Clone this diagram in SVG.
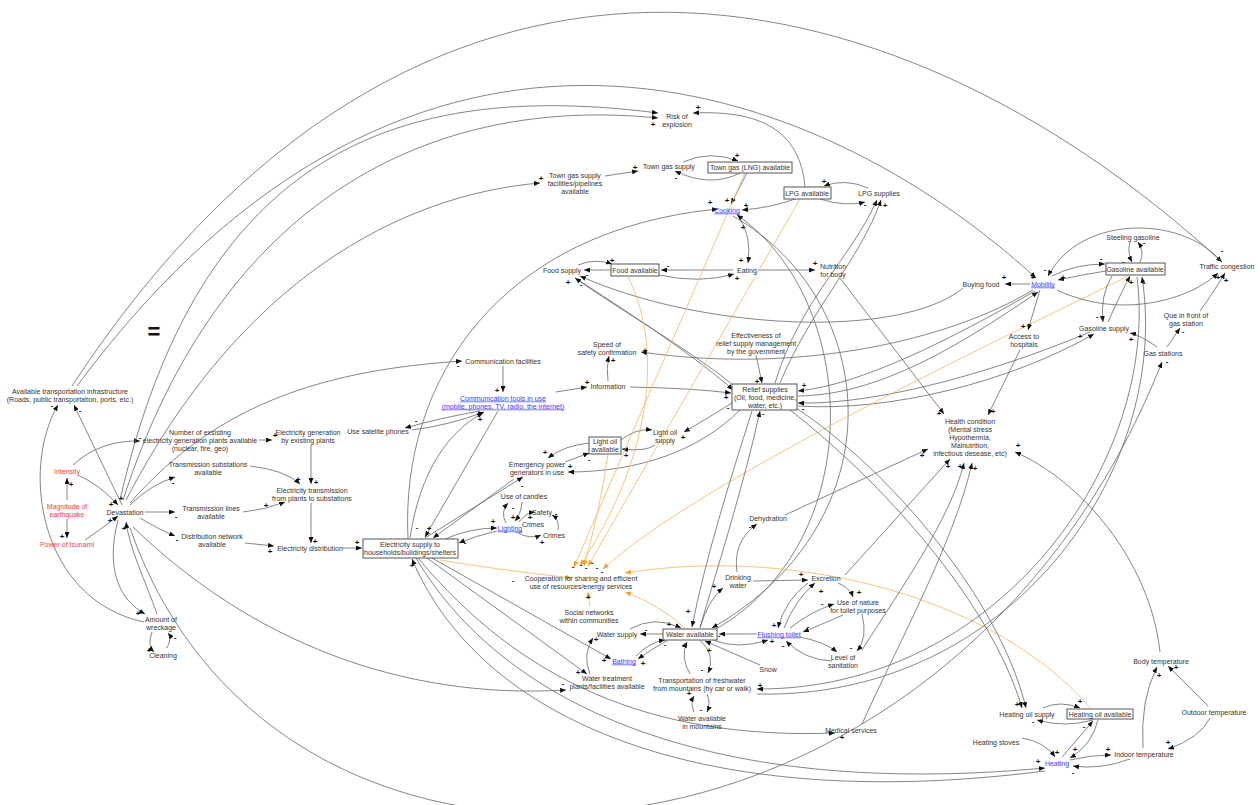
<svg xmlns="http://www.w3.org/2000/svg" width="1260" height="805" viewBox="0 0 1260 805">
<style>
  text { font-family: "Liberation Sans", Arial, sans-serif; font-size: 7px; fill: #333; text-anchor: middle; }
  .red { fill: #ff3a3a; }
  .blue { fill: #3b3bff; }
  .ul { text-decoration: underline; }
  .pol { font-size: 8px; font-weight: bold; fill: #111; }
  .eq { font-size: 22px; font-weight: bold; fill: #111; }
  .box { fill: #fff; stroke: #555; stroke-width: 1; }
  #connectors path { fill: none; stroke: #666; stroke-width: 0.8; marker-end: url(#ah); }
  #connectors path.o { stroke: #f9b55a; marker-end: url(#aho); }
</style>
<defs>
  <marker id="ah" markerUnits="userSpaceOnUse" markerWidth="6" markerHeight="5" refX="6" refY="2.5" orient="auto">
    <path d="M0,0 L6,2.5 L0,5 z" fill="#111"/>
  </marker>
  <marker id="aho" markerUnits="userSpaceOnUse" markerWidth="6" markerHeight="5" refX="6" refY="2.5" orient="auto">
    <path d="M0,0 L6,2.5 L0,5 z" fill="#f5a030"/>
  </marker>
</defs>
<rect width="1260" height="805" fill="#fff"/>

<g id="connectors">
  <!-- left cluster -->
  <path d="M67,500 L67,478"/>
  <path d="M67,519 L67,538"/>
  <path d="M78,475 Q100,485 118,505"/>
  <path d="M85,540 Q100,530 118,516"/>
  <path d="M122,505 L74,405"/>
  <path d="M144,622 C40,600 20,470 58,405"/>
  <path d="M118,520 C105,570 120,600 145,614"/>
  <path d="M157,614 C145,580 130,550 126,522"/>
  <path d="M152,632 Q147,645 154,652"/>
  <path d="M167,648 Q172,638 168,633"/>
  <path d="M73,465 Q100,440 140,441"/>
  <path d="M130,505 Q150,485 175,477"/>
  <path d="M145,512 L175,512"/>
  <path d="M140,518 Q160,530 175,536"/>
  <path d="M259,440 L272,440"/>
  <path d="M311,445 L311,484"/>
  <path d="M250,466 Q285,470 300,484"/>
  <path d="M243,512 Q265,510 285,502"/>
  <path d="M311,503 L311,543"/>
  <path d="M245,543 L274,546"/>
  <path d="M342,548 L362,548"/>

  <!-- long arcs over the top -->
  <path d="M72,386 C415,-137 886,-46 1222,262"/>
  <path d="M77,386 C414,-69 815,76 1036,278"/>
  <path d="M120,500 C200,150 400,80 658,113"/>
  <path d="M123,500 C220,200 430,95 658,118"/>
  <path d="M126,500 C240,280 400,195 540,183"/>
  <path d="M130,503 C220,400 330,370 462,361"/>
  <path d="M408,539 C400,380 500,230 718,209"/>

  <!-- gas / cooking / food -->
  <path d="M805,187 C800,130 760,110 693,113"/>
  <path d="M605,176 L638,171"/>
  <path d="M683,162 Q710,150 738,161"/>
  <path d="M740,173 Q710,188 675,171"/>
  <path d="M747,173 L731,204"/>
  <path d="M795,199 Q770,208 742,210"/>
  <path d="M868,188 Q845,178 824,186"/>
  <path d="M820,199 Q845,207 865,202"/>
  <path d="M738,216 Q752,235 748,263"/>
  <path d="M733,270 L661,270"/>
  <path d="M659,275 Q700,284 734,274"/>
  <path d="M758,270 L815,270"/>
  <path d="M578,265 Q595,258 612,264"/>
  <path d="M611,270 L584,270"/>
  <path d="M840,278 L944,414"/>
  <path d="M733,216 C880,300 900,520 712,628"/>
  <path d="M716,629 C870,540 860,300 737,215"/>
  <path d="M775,383 C800,300 850,260 877,200"/>
  <path d="M780,383 C810,310 860,260 881,200"/>
  <path d="M733,385 C690,350 620,310 575,278"/>
  <path d="M580,281 C640,320 700,360 733,390"/>
  <path d="M963,288 C900,340 700,330 580,276"/>

  <!-- information / relief -->
  <path d="M756,355 L762,383"/>
  <path d="M608,381 Q606,368 609,356"/>
  <path d="M556,392 L587,387"/>
  <path d="M630,387 Q690,388 731,393"/>
  <path d="M1033,290 C950,340 800,375 641,352"/>
  <path d="M1035,291 C950,340 860,385 798,391"/>
  <path d="M798,396 C880,395 960,345 1038,292"/>
  <path d="M1090,332 C1000,370 880,405 798,403"/>
  <path d="M798,406 C890,412 1010,382 1094,334"/>
  <path d="M732,403 Q708,418 684,432"/>
  <path d="M655,445 Q645,452 622,449"/>
  <path d="M621,440 Q636,428 652,430"/>
  <path d="M740,410 C700,450 640,472 568,472"/>
  <path d="M590,443 Q565,445 548,458"/>
  <path d="M565,462 L589,453"/>

  <!-- communication / lighting -->
  <path d="M503,366 L503,392"/>
  <path d="M480,411 Q440,418 405,428"/>
  <path d="M412,430 Q450,425 484,412"/>
  <path d="M410,538 C420,470 450,430 483,413"/>
  <path d="M498,411 L425,537"/>
  <path d="M425,538 L523,477"/>
  <path d="M514,479 L433,538"/>
  <path d="M445,539 Q470,528 497,528"/>
  <path d="M497,531 Q475,536 459,543"/>
  <path d="M506,523 Q500,512 508,503"/>
  <path d="M522,502 Q521,514 515,521"/>
  <path d="M519,522 Q525,513 535,512"/>
  <path d="M558,530 Q560,520 552,515"/>
  <path d="M516,532 Q530,540 541,535"/>

  <!-- cooperation (orange) -->
  <path class="o" d="M440,560 Q500,570 572,578"/>
  <path class="o" d="M745,173 L574,567"/>
  <path class="o" d="M800,199 L588,566"/>
  <path class="o" d="M628,277 C665,350 650,460 580,566"/>
  <path class="o" d="M608,454 Q600,510 584,566"/>
  <path class="o" d="M1128,276 C1000,340 700,480 603,569"/>
  <path class="o" d="M1092,710 C1000,600 800,545 625,573"/>
  <path class="o" d="M685,628 Q660,605 625,592"/>
  <path class="o" d="M590,606 L588,592"/>

  <!-- water -->
  <path d="M752,411 C730,480 705,560 692,627"/>
  <path d="M700,627 C720,560 745,480 760,411"/>
  <path d="M663,634 L640,634"/>
  <path d="M630,629 Q655,615 681,628"/>
  <path d="M668,640 Q650,650 638,659"/>
  <path d="M636,656 Q650,642 665,640"/>
  <path d="M590,674 Q582,655 593,638"/>
  <path d="M432,558 L611,659"/>
  <path d="M427,558 L587,674"/>
  <path d="M133,527 C250,640 400,700 566,690"/>
  <path d="M737,572 C734,550 742,535 757,524"/>
  <path d="M700,628 Q708,600 723,588"/>
  <path d="M753,581 L808,580"/>
  <path d="M785,515 L928,449"/>
  <path d="M713,640 Q738,650 768,640"/>
  <path d="M757,634 L719,634"/>
  <path d="M808,583 Q785,600 778,628"/>
  <path d="M784,628 Q795,600 815,583"/>
  <path d="M790,628 Q810,612 834,604"/>
  <path d="M843,615 Q820,625 803,632"/>
  <path d="M800,637 Q825,642 837,652"/>
  <path d="M832,661 Q805,660 786,641"/>
  <path d="M838,583 Q850,588 853,597"/>
  <path d="M862,614 Q868,638 857,651"/>
  <path d="M845,575 L950,459"/>
  <path d="M862,650 C900,590 950,520 964,463"/>
  <path d="M862,724 C900,640 955,540 972,463"/>
  <path d="M760,665 L705,641"/>
  <path d="M700,640 Q716,655 708,673"/>
  <path d="M690,674 Q680,657 687,642"/>
  <path d="M707,694 Q711,703 707,712"/>
  <path d="M694,712 Q690,703 694,696"/>
  <path d="M1137,277 C1160,460 1000,690 757,689"/>
  <path d="M757,694 C1010,700 1172,470 1142,277"/>
  <path d="M130,528 C280,960 950,900 1162,362"/>
  <path d="M418,558 C520,680 650,740 835,733"/>
  <path d="M416,558 C500,700 700,800 1045,768"/>
  <path d="M1045,771 C700,815 480,720 412,559"/>

  <!-- heating -->
  <path d="M1043,708 Q1060,700 1080,708"/>
  <path d="M1093,720 Q1065,728 1037,720"/>
  <path d="M1098,720 Q1092,745 1070,758"/>
  <path d="M1062,757 L1093,721"/>
  <path d="M1022,738 Q1045,742 1055,757"/>
  <path d="M1070,760 Q1090,755 1111,755"/>
  <path d="M1130,759 Q1100,770 1073,766"/>
  <path d="M1143,748 Q1140,700 1157,667"/>
  <path d="M1208,706 L1168,666"/>
  <path d="M1210,718 Q1200,738 1168,749"/>
  <path d="M1160,652 C1150,560 1080,480 1015,452"/>
  <path d="M790,410 C880,480 990,600 1022,708"/>
  <path d="M796,408 C890,470 1000,600 1026,708"/>

  <!-- gasoline / mobility -->
  <path d="M1106,271 Q1080,275 1058,280"/>
  <path d="M1052,276 Q1075,264 1105,264"/>
  <path d="M1130,242 Q1127,252 1132,262"/>
  <path d="M1140,262 Q1145,252 1138,242"/>
  <path d="M1220,260 C1180,215 1080,215 1048,276"/>
  <path d="M1057,290 C1120,320 1190,300 1218,273"/>
  <path d="M1112,276 Q1100,295 1103,322"/>
  <path d="M1108,322 Q1120,295 1130,276"/>
  <path d="M1157,347 Q1140,335 1130,333"/>
  <path d="M1167,347 L1180,328"/>
  <path d="M1200,311 Q1215,290 1225,273"/>
  <path d="M1030,284 L1005,284"/>
  <path d="M1040,290 L1028,330"/>
  <path d="M1020,350 L988,415"/>

  <!-- polarities -->
  <text class="pol" x="71" y="487">+</text>
  <text class="pol" x="62" y="539">+</text>
  <text class="pol" x="111" y="507">+</text>
  <text class="pol" x="121" y="501">+</text>
  <text class="pol" x="110" y="523">+</text>
  <text class="pol" x="124" y="531">+</text>
  <text class="pol" x="80" y="413">-</text>
  <text class="pol" x="52" y="408">-</text>
  <text class="pol" x="138" y="616">+</text>
  <text class="pol" x="149" y="653">+</text>
  <text class="pol" x="175" y="640">-</text>
  <text class="pol" x="140" y="440">-</text>
  <text class="pol" x="173" y="485">-</text>
  <text class="pol" x="176" y="519">-</text>
  <text class="pol" x="177" y="542">-</text>
  <text class="pol" x="275" y="438">+</text>
  <text class="pol" x="316" y="485">+</text>
  <text class="pol" x="298" y="482">+</text>
  <text class="pol" x="266" y="508">+</text>
  <text class="pol" x="315" y="544">+</text>
  <text class="pol" x="270" y="554">+</text>
  <text class="pol" x="357" y="545">+</text>
  <text class="pol" x="1222" y="253">-</text>
  <text class="pol" x="1033" y="280">+</text>
  <text class="pol" x="1045" y="272">-</text>
  <text class="pol" x="653" y="127">+</text>
  <text class="pol" x="541" y="181">+</text>
  <text class="pol" x="458" y="368">-</text>
  <text class="pol" x="710" y="205">+</text>
  <text class="pol" x="698" y="110">+</text>
  <text class="pol" x="635" y="170">+</text>
  <text class="pol" x="737" y="158">+</text>
  <text class="pol" x="676" y="180">-</text>
  <text class="pol" x="727" y="203">+</text>
  <text class="pol" x="746" y="208">+</text>
  <text class="pol" x="824" y="184">+</text>
  <text class="pol" x="865" y="207">-</text>
  <text class="pol" x="885" y="208">+</text>
  <text class="pol" x="743" y="230">+</text>
  <text class="pol" x="741" y="263">+</text>
  <text class="pol" x="668" y="268">-</text>
  <text class="pol" x="737" y="281">+</text>
  <text class="pol" x="815" y="266">+</text>
  <text class="pol" x="612" y="263">+</text>
  <text class="pol" x="587" y="277">-</text>
  <text class="pol" x="568" y="285">+</text>
  <text class="pol" x="581" y="287">-</text>
  <text class="pol" x="939" y="416">+</text>
  <text class="pol" x="757" y="384">+</text>
  <text class="pol" x="613" y="363">+</text>
  <text class="pol" x="587" y="385">+</text>
  <text class="pol" x="726" y="400">+</text>
  <text class="pol" x="645" y="353">+</text>
  <text class="pol" x="804" y="388">+</text>
  <text class="pol" x="803" y="411">-</text>
  <text class="pol" x="1080" y="339">+</text>
  <text class="pol" x="683" y="440">+</text>
  <text class="pol" x="626" y="458">+</text>
  <text class="pol" x="647" y="432">-</text>
  <text class="pol" x="728" y="410">-</text>
  <text class="pol" x="570" y="469">+</text>
  <text class="pol" x="545" y="455">+</text>
  <text class="pol" x="589" y="462">-</text>
  <text class="pol" x="497" y="393">+</text>
  <text class="pol" x="416" y="423">-</text>
  <text class="pol" x="480" y="422">+</text>
  <text class="pol" x="417" y="530">-</text>
  <text class="pol" x="429" y="531">+</text>
  <text class="pol" x="522" y="488">-</text>
  <text class="pol" x="493" y="524">+</text>
  <text class="pol" x="465" y="545">-</text>
  <text class="pol" x="513" y="510">-</text>
  <text class="pol" x="513" y="520">+</text>
  <text class="pol" x="530" y="520">+</text>
  <text class="pol" x="556" y="516">-</text>
  <text class="pol" x="542" y="545">+</text>
  <text class="pol" x="513" y="583">-</text>
  <text class="pol" x="573" y="569">-</text>
  <text class="pol" x="581" y="567">-</text>
  <text class="pol" x="586" y="570">-</text>
  <text class="pol" x="592" y="565">-</text>
  <text class="pol" x="597" y="570">-</text>
  <text class="pol" x="602" y="574">-</text>
  <text class="pol" x="588" y="600">+</text>
  <text class="pol" x="688" y="614">+</text>
  <text class="pol" x="763" y="416">-</text>
  <text class="pol" x="646" y="632">-</text>
  <text class="pol" x="669" y="627">+</text>
  <text class="pol" x="643" y="666">+</text>
  <text class="pol" x="665" y="647">-</text>
  <text class="pol" x="596" y="642">+</text>
  <text class="pol" x="578" y="675">+</text>
  <text class="pol" x="604" y="663">+</text>
  <text class="pol" x="563" y="686">-</text>
  <text class="pol" x="750" y="529">-</text>
  <text class="pol" x="714" y="589">+</text>
  <text class="pol" x="801" y="577">+</text>
  <text class="pol" x="922" y="458">+</text>
  <text class="pol" x="772" y="644">+</text>
  <text class="pol" x="719" y="638">-</text>
  <text class="pol" x="774" y="628">+</text>
  <text class="pol" x="821" y="594">+</text>
  <text class="pol" x="822" y="606">-</text>
  <text class="pol" x="808" y="629">-</text>
  <text class="pol" x="783" y="648">-</text>
  <text class="pol" x="859" y="595">+</text>
  <text class="pol" x="851" y="650">-</text>
  <text class="pol" x="948" y="469">+</text>
  <text class="pol" x="960" y="469">+</text>
  <text class="pol" x="975" y="471">+</text>
  <text class="pol" x="709" y="653">+</text>
  <text class="pol" x="702" y="672">-</text>
  <text class="pol" x="684" y="648">+</text>
  <text class="pol" x="701" y="712">-</text>
  <text class="pol" x="689" y="696">+</text>
  <text class="pol" x="760" y="688">+</text>
  <text class="pol" x="1131" y="285">+</text>
  <text class="pol" x="1144" y="285">-</text>
  <text class="pol" x="1167" y="364">-</text>
  <text class="pol" x="842" y="740">+</text>
  <text class="pol" x="1038" y="764">+</text>
  <text class="pol" x="412" y="568">+</text>
  <text class="pol" x="1080" y="704">+</text>
  <text class="pol" x="1033" y="724">-</text>
  <text class="pol" x="1075" y="752">+</text>
  <text class="pol" x="1084" y="729">-</text>
  <text class="pol" x="1057" y="755">+</text>
  <text class="pol" x="1108" y="752">+</text>
  <text class="pol" x="1073" y="775">-</text>
  <text class="pol" x="1159" y="678">+</text>
  <text class="pol" x="1176" y="670">+</text>
  <text class="pol" x="1168" y="745">+</text>
  <text class="pol" x="1018" y="448">+</text>
  <text class="pol" x="1017" y="707">+</text>
  <text class="pol" x="1063" y="280">+</text>
  <text class="pol" x="1101" y="261">-</text>
  <text class="pol" x="1123" y="264">-</text>
  <text class="pol" x="1144" y="245">-</text>
  <text class="pol" x="1218" y="280">+</text>
  <text class="pol" x="1097" y="319">-</text>
  <text class="pol" x="1131" y="342">+</text>
  <text class="pol" x="1183" y="334">-</text>
  <text class="pol" x="1226" y="283">+</text>
  <text class="pol" x="1004" y="280">+</text>
  <text class="pol" x="1023" y="329">+</text>
  <text class="pol" x="993" y="414">+</text>
</g>

<!-- nodes -->
<g id="n-equals"><text class="eq" x="154" y="339">=</text></g>
<g id="n-transport"><text x="70" y="393.5">Available transportation infrastructure</text><text x="70" y="401.5">(Roads, public transportation, ports, etc.)</text></g>
<g id="n-intensity"><text class="red" x="67" y="473.5">Intensity</text></g>
<g id="n-magnitude"><text class="red" x="67" y="508.5">Magnitude of</text><text class="red" x="67" y="516.5">earthquake</text></g>
<g id="n-tsunami"><text class="red" x="67" y="546.5">Power of tsunami</text></g>
<g id="n-devastation"><text x="125" y="514.5">Devastation</text></g>
<g id="n-plants"><text x="200" y="434.5">Number of exsisting</text><text x="200" y="442.5">electricity generation plants available</text><text x="200" y="450.5">(nuclear, fire, geo)</text></g>
<g id="n-generation"><text x="308" y="434.5">Electricity generation</text><text x="308" y="442.5">by existing plants</text></g>
<g id="n-substations"><text x="208" y="466.5">Transmission substations</text><text x="208" y="474.5">available</text></g>
<g id="n-transmission"><text x="312" y="492.5">Electricity transmission</text><text x="312" y="500.5">from plants to substations</text></g>
<g id="n-lines"><text x="211" y="510.5">Transmission lines</text><text x="211" y="518.5">available</text></g>
<g id="n-distnet"><text x="212" y="538.5">Distribution network</text><text x="212" y="546.5">available</text></g>
<g id="n-distribution"><text x="310" y="550.5">Electricity distribution</text></g>
<g id="n-wreckage"><text x="161" y="621.5">Amount of</text><text x="161" y="629.5">wreckage</text></g>
<g id="n-cleaning"><text x="163" y="657.5">Cleaning</text></g>

<g id="n-commfac"><text x="503" y="363.5">Communication facilities</text></g>
<g id="n-commtools"><text class="blue ul" x="503" y="400.5">Communication tools in use</text><text class="blue ul" x="503" y="408.5">(mobile, phones, TV, radio, the internet)</text></g>
<g id="n-satphones"><text x="378" y="433.5">Use satelite phones</text></g>
<g id="n-information"><text x="608" y="388.5">Information</text></g>
<g id="n-speed"><text x="607" y="346.5">Speed of</text><text x="607" y="354.5">safety confirmation</text></g>
<g id="n-effect"><text x="756" y="337.5">Effectiveness of</text><text x="756" y="345.5">relief supply management</text><text x="756" y="353.5">by the government</text></g>
<g id="n-relief"><rect class="box" x="732" y="384" width="65" height="26"/><text x="765" y="391.5">Relief supplies</text><text x="765" y="399.5">(Oil, food, medicine,</text><text x="765" y="407.5">water, etc.)</text></g>
<g id="n-lightoilavail"><rect class="box" x="589" y="437" width="32" height="17"/><text x="605" y="443.5">Light oil</text><text x="605" y="451.5">available</text></g>
<g id="n-lightoilsupply"><text x="665" y="434.5">Light oil</text><text x="665" y="442.5">supply</text></g>
<g id="n-emergency"><text x="537" y="466.5">Emergency power</text><text x="537" y="474.5">generators in use</text></g>
<g id="n-candles"><text x="524" y="498.5">Use of candles</text></g>
<g id="n-safety"><text x="542" y="514.5">Safety</text></g>
<g id="n-crimes1"><text x="533" y="526.5">Crimes</text></g>
<g id="n-lighting"><text class="blue ul" x="510" y="530.5">Lighting</text></g>
<g id="n-crimes2"><text x="554" y="537.5">Crimes</text></g>
<g id="n-elecsupply"><rect class="box" x="363" y="539" width="95" height="19"/><text x="410" y="546.5">Electricity supply to</text><text x="410" y="554.5">households/buildings/shelters</text></g>
<g id="n-cooperation"><text x="581" y="580.5">Cooperation for sharing and efficient</text><text x="581" y="588.5">use of resources/energy services</text></g>
<g id="n-social"><text x="589" y="614.5">Social networks</text><text x="589" y="622.5">within communities</text></g>
<g id="n-watersupply"><text x="617" y="636.5">Water supply</text></g>
<g id="n-bathing"><text class="blue ul" x="624" y="663.5">Bathing</text></g>
<g id="n-watertreat"><text x="607" y="680.5">Water treatment</text><text x="607" y="688.5">plants/facilities available</text></g>
<g id="n-wateravail"><rect class="box" x="663" y="629" width="54" height="11"/><text x="690" y="636.5">Water available</text></g>
<g id="n-drinking"><text x="738" y="579.5">Drinking</text><text x="738" y="587.5">water</text></g>
<g id="n-dehydration"><text x="768" y="520.5">Dehydration</text></g>
<g id="n-excretion"><text x="826" y="580.5">Excretion</text></g>
<g id="n-usenature"><text x="858" y="604.5">Use of nature</text><text x="858" y="612.5">for toilet purposes</text></g>
<g id="n-flushing"><text class="blue ul" x="779" y="636.5">Flushing toilet</text></g>
<g id="n-sanitation"><text x="843" y="659.5">Level of</text><text x="843" y="667.5">sanitation</text></g>
<g id="n-snow"><text x="768" y="671.5">Snow</text></g>
<g id="n-freshwater"><text x="702" y="682.5">Transportation of freshwater</text><text x="702" y="690.5">from mountains (by car or walk)</text></g>
<g id="n-mountains"><text x="702" y="720.5">Water available</text><text x="702" y="728.5">in mountains</text></g>
<g id="n-medical"><text x="851" y="732.5">Medical services</text></g>

<g id="n-towngasfac"><text x="575" y="177.5">Town gas supply</text><text x="575" y="185.5">facilities/pipelines</text><text x="575" y="193.5">available</text></g>
<g id="n-towngassupply"><text x="669" y="168.5">Town gas supply</text></g>
<g id="n-lng"><rect class="box" x="708" y="162" width="84" height="11"/><text x="750" y="169.5">Town gas (LNG) available</text></g>
<g id="n-risk"><text x="677" y="118.5">Risk of</text><text x="677" y="126.5">explosion</text></g>
<g id="n-lpgavail"><rect class="box" x="784" y="187" width="47" height="12"/><text x="807" y="195.5">LPG available</text></g>
<g id="n-lpgsupplies"><text x="879" y="195.5">LPG supplies</text></g>
<g id="n-cooking"><text class="blue ul" x="727" y="212.5">Cooking</text></g>
<g id="n-eating"><text x="747" y="272.5">Eating</text></g>
<g id="n-nutrition"><text x="833" y="268.5">Nutrition</text><text x="833" y="276.5">for body</text></g>
<g id="n-foodavail"><rect class="box" x="611" y="264" width="48" height="12"/><text x="635" y="272.5">Food available</text></g>
<g id="n-foodsupply"><text x="562" y="272.5">Food supply</text></g>

<g id="n-steeling"><text x="1133" y="239.5">Steeling gasoline</text></g>
<g id="n-gasavail"><rect class="box" x="1106" y="263" width="59" height="12"/><text x="1135" y="271.5">Gasoline available</text></g>
<g id="n-traffic"><text x="1227" y="268.5">Traffic congestion</text></g>
<g id="n-mobility"><text class="blue ul" x="1043" y="286.5">Mobility</text></g>
<g id="n-buying"><text x="981" y="286.5">Buying food</text></g>
<g id="n-gassupply"><text x="1104" y="330.5">Gasoline supply</text></g>
<g id="n-que"><text x="1186" y="317.5">Que in front of</text><text x="1186" y="325.5">gas station</text></g>
<g id="n-gasstations"><text x="1163" y="355.5">Gas stations</text></g>
<g id="n-access"><text x="1024" y="338.5">Access to</text><text x="1024" y="346.5">hospitals</text></g>
<g id="n-health"><text x="970" y="423.5">Health condition</text><text x="970" y="431.5">(Mental stress</text><text x="970" y="439.5">Hypothermia,</text><text x="970" y="447.5">Malnutrition,</text><text x="970" y="455.5">infectious desease, etc)</text></g>

<g id="n-heatoilsupply"><text x="1027" y="716.5">Heating oil supply</text></g>
<g id="n-heatoilavail"><rect class="box" x="1067" y="709" width="66" height="10"/><text x="1100" y="716.5">Heating oil available</text></g>
<g id="n-stoves"><text x="996" y="744.5">Heating stoves</text></g>
<g id="n-heating"><text class="blue" x="1057" y="765.5">Heating</text></g>
<g id="n-indoor"><text x="1144" y="756.5">Indoor temperature</text></g>
<g id="n-body"><text x="1161" y="663.5">Body temperature</text></g>
<g id="n-outdoor"><text x="1214" y="714.5">Outdoor temperature</text></g>
</svg>
